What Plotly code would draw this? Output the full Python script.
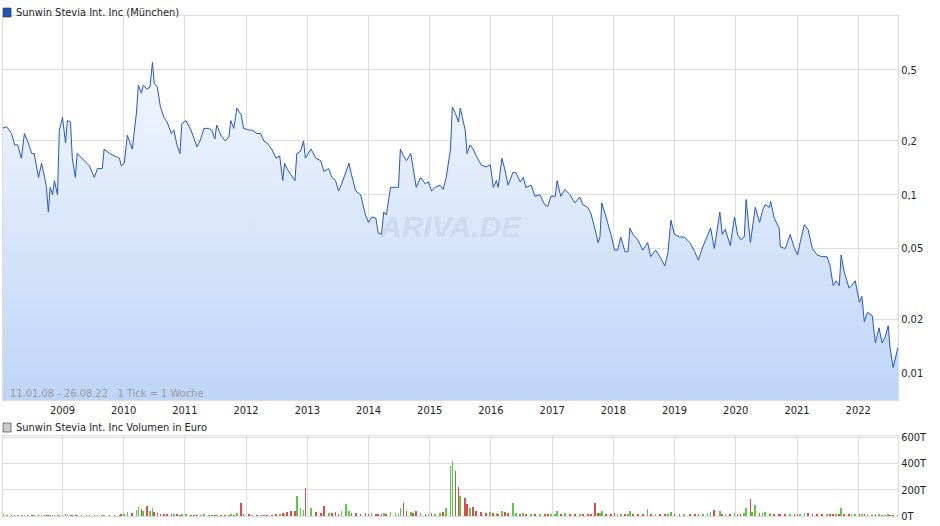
import pandas as pd
import plotly.graph_objects as go

# weekly samples (decimal years), prices in EUR, volume in T EUR
years = [
    2008.03, 2008.09, 2008.17, 2008.22, 2008.27, 2008.33, 2008.38, 2008.43, 2008.50, 2008.54, 2008.61, 2008.66, 2008.71, 2008.74, 2008.77, 2008.80, 2008.84, 2008.87, 2008.92, 2008.95,
    2009.00, 2009.05, 2009.08, 2009.13, 2009.16, 2009.21, 2009.24, 2009.31, 2009.39, 2009.44, 2009.52, 2009.57, 2009.65, 2009.68, 2009.77, 2009.85, 2009.93, 2009.96,
    2010.01, 2010.06, 2010.14, 2010.21, 2010.24, 2010.29, 2010.32, 2010.38, 2010.43, 2010.47, 2010.50, 2010.55, 2010.60, 2010.66, 2010.71, 2010.78, 2010.82, 2010.87, 2010.92, 2010.95,
    2011.02, 2011.10, 2011.15, 2011.20, 2011.26, 2011.31, 2011.39, 2011.44, 2011.49, 2011.52, 2011.59, 2011.66, 2011.72, 2011.75, 2011.80, 2011.85, 2011.92, 2011.96,
    2012.05, 2012.10, 2012.18, 2012.24, 2012.29, 2012.34, 2012.42, 2012.49, 2012.55, 2012.60, 2012.63, 2012.67, 2012.73, 2012.80, 2012.83, 2012.89, 2012.94, 2012.97,
    2013.06, 2013.14, 2013.22, 2013.27, 2013.35, 2013.40, 2013.46, 2013.51, 2013.56, 2013.63, 2013.68, 2013.72, 2013.79, 2013.87, 2013.95,
    2014.00, 2014.05, 2014.12, 2014.16, 2014.21, 2014.25, 2014.29, 2014.36, 2014.44, 2014.49, 2014.52, 2014.57, 2014.62, 2014.69, 2014.73, 2014.78, 2014.85, 2014.93, 2014.98,
    2015.03, 2015.09, 2015.17, 2015.22, 2015.27, 2015.34, 2015.37, 2015.42, 2015.47, 2015.50, 2015.58, 2015.61, 2015.66, 2015.71, 2015.76, 2015.84, 2015.92, 2015.99,
    2016.04, 2016.09, 2016.12, 2016.18, 2016.23, 2016.28, 2016.36, 2016.41, 2016.48, 2016.53, 2016.57, 2016.66, 2016.72, 2016.80, 2016.88, 2016.93, 2016.98,
    2017.05, 2017.08, 2017.14, 2017.21, 2017.29, 2017.37, 2017.45, 2017.50, 2017.58, 2017.63, 2017.70, 2017.75, 2017.78, 2017.81, 2017.88, 2017.96,
    2018.02, 2018.07, 2018.12, 2018.19, 2018.24, 2018.27, 2018.32, 2018.40, 2018.48, 2018.56, 2018.61, 2018.69, 2018.76, 2018.84, 2018.89, 2018.94,
    2019.00, 2019.08, 2019.16, 2019.25, 2019.33, 2019.39, 2019.46, 2019.54, 2019.59, 2019.65, 2019.74, 2019.78, 2019.83, 2019.91, 2019.98,
    2020.03, 2020.08, 2020.14, 2020.17, 2020.24, 2020.27, 2020.32, 2020.39, 2020.44, 2020.48, 2020.55, 2020.57, 2020.63, 2020.71, 2020.73, 2020.81, 2020.89, 2020.96,
    2021.01, 2021.05, 2021.12, 2021.18, 2021.25, 2021.33, 2021.41, 2021.49, 2021.54, 2021.59, 2021.64, 2021.69, 2021.72, 2021.77, 2021.85, 2021.89, 2021.95,
    2022.02, 2022.06, 2022.10, 2022.15, 2022.23, 2022.28, 2022.34, 2022.39, 2022.44, 2022.49, 2022.52, 2022.57, 2022.65,
]
price = [
    0.236, 0.24, 0.22, 0.19, 0.19, 0.16, 0.22, 0.2, 0.17, 0.17, 0.125, 0.15, 0.125, 0.11, 0.08, 0.11, 0.1, 0.12, 0.10, 0.23,
    0.27, 0.195, 0.26, 0.255, 0.16, 0.125, 0.17, 0.16, 0.15, 0.145, 0.125, 0.14, 0.14, 0.18, 0.17, 0.165, 0.16, 0.145,
    0.15, 0.215, 0.18, 0.29, 0.41, 0.37, 0.41, 0.39, 0.40, 0.55, 0.42, 0.40, 0.31, 0.27, 0.255, 0.22, 0.23, 0.19, 0.17, 0.25,
    0.26, 0.23, 0.205, 0.185, 0.205, 0.235, 0.235, 0.23, 0.205, 0.245, 0.215, 0.2, 0.21, 0.26, 0.235, 0.305, 0.28, 0.235,
    0.23, 0.23, 0.22, 0.22, 0.2, 0.195, 0.18, 0.16, 0.165, 0.12, 0.15, 0.14, 0.13, 0.12, 0.17, 0.175, 0.2, 0.16,
    0.18, 0.16, 0.155, 0.135, 0.14, 0.125, 0.12, 0.105, 0.115, 0.135, 0.15, 0.13, 0.105, 0.10, 0.077,
    0.07, 0.075, 0.074, 0.061, 0.06, 0.08, 0.077, 0.11, 0.11, 0.11, 0.18, 0.165, 0.155, 0.17, 0.14, 0.11, 0.125, 0.115, 0.118,
    0.105, 0.11, 0.113, 0.107, 0.125, 0.18, 0.31, 0.285, 0.255, 0.305, 0.23, 0.17, 0.19, 0.18, 0.165, 0.147, 0.143, 0.147,
    0.11, 0.12, 0.11, 0.16, 0.138, 0.113, 0.133, 0.133, 0.118, 0.125, 0.11, 0.113, 0.098, 0.10, 0.088, 0.086, 0.098,
    0.098, 0.12, 0.098, 0.107, 0.10, 0.09, 0.097, 0.088, 0.085, 0.079, 0.064, 0.054, 0.058, 0.09, 0.075, 0.06,
    0.049, 0.049, 0.058, 0.048, 0.048, 0.065, 0.06, 0.056, 0.049, 0.054, 0.045, 0.049, 0.045, 0.04, 0.047, 0.072,
    0.06, 0.058, 0.058, 0.054, 0.048, 0.043, 0.051, 0.06, 0.065, 0.05, 0.08, 0.06, 0.064, 0.052, 0.075,
    0.06, 0.056, 0.058, 0.094, 0.054, 0.065, 0.085, 0.07, 0.082, 0.088, 0.085, 0.092, 0.074, 0.065, 0.051, 0.05, 0.06, 0.05,
    0.046, 0.054, 0.068, 0.064, 0.05, 0.046, 0.045, 0.045, 0.04, 0.031, 0.033, 0.031, 0.046, 0.037, 0.030, 0.031, 0.033,
    0.025, 0.027, 0.0195, 0.022, 0.021, 0.0148, 0.018, 0.0148, 0.016, 0.0185, 0.014, 0.0108, 0.014,
]
volume_t = [
    8, 6, 5, 4, 5, 4, 6, 4, 3, 4, 5, 3, 4, 3, 6, 4, 3, 4, 3, 5,
    6, 8, 5, 4, 7, 5, 4, 3, 4, 3, 5, 4, 3, 6, 4, 5, 3, 10,
    18, 30, 20, 45, 70, 55, 40, 75, 35, 60, 30, 25, 15, 12, 10, 12, 8, 10, 7, 9,
    8, 6, 7, 5, 6, 8, 5, 4, 6, 7, 5, 4, 5, 9, 6, 20, 100, 15,
    10, 6, 5, 7, 4, 6, 5, 8, 12, 25, 15, 30, 35, 40, 150, 60, 45, 210,
    60, 30, 25, 75, 20, 25, 30, 15, 35, 90, 40, 20, 25, 15, 20,
    15, 20, 12, 18, 10, 25, 15, 30, 20, 18, 60, 100, 40, 30, 25, 35, 20, 15, 18,
    20, 15, 25, 30, 60, 380, 420, 340, 220, 150, 140, 90, 60, 70, 40, 30, 25, 30,
    25, 20, 15, 40, 30, 20, 100, 25, 15, 20, 15, 12, 18, 10, 12, 15, 10,
    12, 40, 15, 20, 10, 15, 12, 10, 12, 15, 100, 25, 20, 35, 15, 12,
    20, 10, 15, 12, 8, 40, 15, 10, 12, 50, 10, 8, 12, 15, 10, 30,
    15, 10, 8, 12, 10, 8, 15, 20, 30, 45, 40, 15, 12, 10, 25,
    12, 15, 20, 60, 130, 30, 85, 20, 25, 30, 15, 20, 15, 12, 10, 12, 15, 10,
    10, 15, 25, 20, 12, 10, 8, 10, 12, 15, 10, 12, 60, 15, 10, 8, 10,
    8, 10, 12, 8, 6, 10, 8, 5, 6, 8, 5, 7, 4,
]
price_ticks = [0.01, 0.02, 0.05, 0.1, 0.2, 0.5]
price_tick_text = ["0,01", "0,02", "0,05", "0,1", "0,2", "0,5"]
vol_ticks = [0, 200000, 400000, 600000]
vol_tick_text = ["0T", "200T", "400T", "600T"]
year_ticks = list(range(2009, 2023))

assert len(years) == len(price) == len(volume_t)


def to_date(y):
    year = int(y)
    start = pd.Timestamp(year=year, month=1, day=1)
    return start + pd.Timedelta(days=(y - year) * 365.25)


dates = [to_date(y) for y in years]
volume = [v * 1000 for v in volume_t]
bar_colors = ["#55cc44" if i == 0 or price[i] >= price[i - 1] else "#e04a4a"
              for i in range(len(price))]

FONT = "Liberation Sans Narrow, DejaVu Sans Condensed, Liberation Sans, Arial"
GRID = "#dddddd"

fig = go.Figure()

fig.add_trace(go.Scatter(
    x=[dates[0], dates[-1]], y=[0.006, 0.006], mode="lines",
    line=dict(width=0), hoverinfo="skip", showlegend=False,
))
fig.add_trace(go.Scatter(
    x=dates, y=price, mode="lines", fill="tonexty",
    line=dict(color="#2356c0", width=1),
    fillgradient=dict(type="vertical",
                      colorscale=[[0, "#bcd3f6"], [1, "#f3f7fe"]]),
    showlegend=False,
))
fig.add_trace(go.Bar(
    x=dates, y=volume, marker=dict(color=bar_colors, line=dict(width=0)),
    width=4 * 24 * 3600 * 1000, xaxis="x2", yaxis="y2", showlegend=False,
))

x_range = [dates[0], dates[-1]]
tickvals = [pd.Timestamp(year=y, month=1, day=1) for y in year_ticks]

fig.update_layout(
    width=940, height=526,
    margin=dict(l=3, r=42, t=16, b=10, autoexpand=False),
    paper_bgcolor="white", plot_bgcolor="white",
    font=dict(family=FONT, size=11, color="#222222"),
    bargap=0,
    xaxis=dict(range=x_range, tickvals=tickvals, ticktext=[str(y) for y in year_ticks],
               showgrid=True, gridcolor=GRID, ticks="", showline=True, linecolor=GRID,
               mirror=True, anchor="y", automargin=False, tickfont=dict(size=11)),
    yaxis=dict(type="log", range=[-2.15, 0], domain=[0.2315, 1.0], side="right",
               tickvals=price_ticks + [1.0], ticktext=price_tick_text + [""],
               showgrid=True, gridcolor=GRID, ticks="", showline=True, automargin=False,
               linecolor=GRID, mirror=True, zeroline=False),
    xaxis2=dict(range=x_range, tickvals=tickvals, showticklabels=False,
                showgrid=True, gridcolor=GRID, showline=True, linecolor=GRID,
                mirror=True, anchor="y2", automargin=False),
    yaxis2=dict(range=[0, 610000], domain=[0.0, 0.16], side="right",
                tickvals=vol_ticks, ticktext=vol_tick_text, showgrid=True,
                gridcolor=GRID, ticks="", showline=True, linecolor=GRID,
                mirror=True, zeroline=False, automargin=False),
)

# legend-like headers
fig.add_shape(type="rect", xref="paper", yref="paper", x0=0.0, x1=0.009,
              y0=0.998, y1=1.016, fillcolor="#1f55b8", line=dict(color="#333", width=0.6))
fig.add_annotation(text="Sunwin Stevia Int. Inc (München)", xref="paper", yref="paper",
                   x=0.012, y=1.007, xanchor="left", yanchor="middle", showarrow=False,
                   font=dict(size=11, color="#222"))
fig.add_shape(type="rect", xref="paper", yref="paper", x0=0.0, x1=0.009,
              y0=0.168, y1=0.186, fillcolor="#cccccc", line=dict(color="#333", width=0.6))
fig.add_annotation(text="Sunwin Stevia Int. Inc Volumen in Euro", xref="paper", yref="paper",
                   x=0.012, y=0.177, xanchor="left", yanchor="middle", showarrow=False,
                   font=dict(size=11, color="#222"))
fig.add_annotation(text="11.01.08 - 26.08.22   1 Tick = 1 Woche", xref="paper", yref="paper",
                   x=0.006, y=0.245, xanchor="left", yanchor="middle", showarrow=False,
                   font=dict(size=11, color="#9a9a9a"))
fig.add_annotation(text="<b><i>ARIVA.DE</i></b>", xref="paper", yref="paper",
                   x=0.50, y=0.58, showarrow=False,
                   font=dict(size=30, color="rgba(170,185,210,0.3)", family="Liberation Sans"))

fig.write_html("out.html", config={"displayModeBar": False},
               post_script="document.body.style.margin='0';")
